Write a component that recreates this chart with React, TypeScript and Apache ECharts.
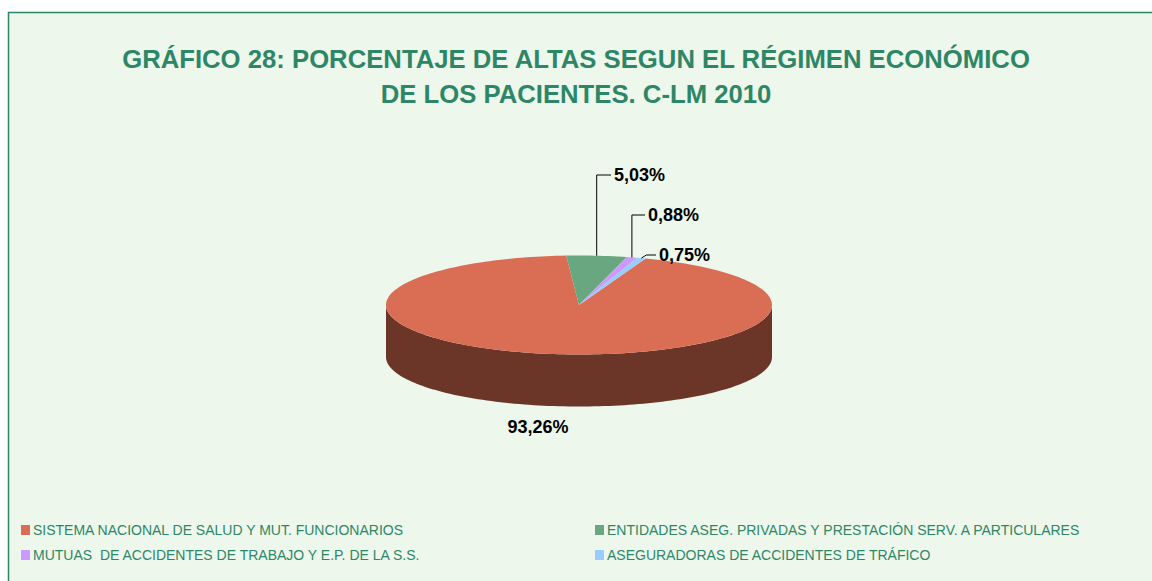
import React, { useEffect, useRef } from "react";
import * as echarts from "echarts";

const titleText = "GRÁFICO 28: PORCENTAJE DE ALTAS SEGUN EL RÉGIMEN ECONÓMICO\nDE LOS PACIENTES. C-LM 2010";
const categories = [
  "SISTEMA NACIONAL DE SALUD Y MUT. FUNCIONARIOS",
  "ENTIDADES ASEG. PRIVADAS Y PRESTACIÓN SERV. A PARTICULARES",
  "MUTUAS  DE ACCIDENTES DE TRABAJO Y E.P. DE LA S.S.",
  "ASEGURADORAS DE ACCIDENTES DE TRÁFICO",
];
const values = [93.26, 5.03, 0.88, 0.75];
const valueLabels = ["93,26%", "5,03%", "0,88%", "0,75%"];
const colors = ["#d96e55", "#68a77f", "#cc99ff", "#99ccff"];
const sideColors = ["#6b3528", "#3f6a4f", "#8a66b0", "#6688aa"];
// slices are laid clockwise from 12 o'clock in this order
const drawOrder = [1, 2, 3, 0];

const GREEN = "#2d8767";
const FONT = "'Liberation Sans', Arial, sans-serif";

// pie geometry (layout, not data)
const CX = 579;
const CY = 305;
const RX = 193;
const RY = 49.5;
const DEPTH = 52;
const START_DEG = -3.8;

// label layout per category (positions only)
const labelLayout = [
  { x: 538, y: 427, align: "center", line: null },
  { x: 614, y: 175, align: "left", line: { bendDx: 0, endX: 611 } },
  { x: 648, y: 215, align: "left", line: { bendDx: 0, endX: 645 } },
  { x: 659, y: 255, align: "left", line: { bendDx: 5, endX: 656 } },
];

const total = values.reduce((a, b) => a + b, 0);
const angleRanges: { a0: number; a1: number }[] = [];
{
  let acc = START_DEG;
  drawOrder.forEach((idx) => {
    const span = (values[idx] / total) * 360;
    angleRanges[idx] = { a0: acc, a1: acc + span };
    acc += span;
  });
}

const pt = (deg: number, dy = 0): number[] => {
  const r = (deg * Math.PI) / 180;
  return [CX + RX * Math.sin(r), CY - RY * Math.cos(r) + dy];
};

const arc = (a0: number, a1: number, dy = 0): number[][] => {
  const n = Math.max(2, Math.ceil(Math.abs(a1 - a0) / 1.5));
  const out: number[][] = [];
  for (let k = 0; k <= n; k++) out.push(pt(a0 + ((a1 - a0) * k) / n, dy));
  return out;
};

const makeRenderItem = (i: number) => (_params: any, _api: any) => {
  const { a0, a1 } = angleRanges[i];
  const children: any[] = [];
  // front outer wall
  const lo = Math.max(a0, 90);
  const hi = Math.min(a1, 270);
  if (lo < hi) {
    const top = arc(lo, hi, 0);
    const bottom = arc(hi, lo, DEPTH);
    children.push({
      type: "polygon",
      shape: { points: top.concat(bottom) },
      style: { fill: sideColors[i] },
      z2: 1,
    });
  }
  // top face
  children.push({
    type: "polygon",
    shape: { points: [[CX, CY]].concat(arc(a0, a1, 0)) },
    style: { fill: colors[i] },
    z2: 10,
  });
  // label
  const L = labelLayout[i];
  if (L.line) {
    const mid = (a0 + a1) / 2;
    const anchor = pt(mid, 0);
    children.push({
      type: "polyline",
      shape: {
        points: [anchor, [anchor[0] + L.line.bendDx, L.y], [L.line.endX, L.y]],
      },
      style: { stroke: "#000000", lineWidth: 1, fill: null },
      z2: 20,
    });
  }
  children.push({
    type: "text",
    style: {
      text: valueLabels[i],
      x: L.x,
      y: L.y,
      align: L.align,
      verticalAlign: "middle",
      font: `bold 18px ${FONT}`,
      fill: "#000000",
    },
    z2: 21,
  });
  return { type: "group", children };
};

export default function App() {
  const ref = useRef<HTMLDivElement>(null);
  useEffect(() => {
    if (!ref.current) return;
    const chart = echarts.init(ref.current, null, { renderer: "svg" });
    const legendText = {
      color: GREEN,
      fontSize: 14,
      fontFamily: FONT,
      lineHeight: 14,
      padding: [0, 0, 0, -2],
    };
    chart.setOption({
      animation: false,
      backgroundColor: "#ffffff",
      title: {
        text: titleText,
        left: "center",
        top: 36,
        padding: [5, 5, 5, 11],
        textStyle: {
          color: GREEN,
          fontSize: 25.7,
          fontWeight: "bold",
          fontFamily: FONT,
          lineHeight: 35,
        },
      },
      graphic: [
        {
          type: "rect",
          silent: true,
          z: -10,
          shape: { x: 8.5, y: 12.5, width: 1300, height: 700 },
          style: { fill: "#edf7ec", stroke: GREEN, lineWidth: 1.5 },
        },
      ],
      legend: [
        {
          orient: "vertical",
          left: 16,
          top: 518,
          icon: "rect",
          itemWidth: 9,
          itemHeight: 10,
          itemGap: 11,
          selectedMode: false,
          data: [categories[0], categories[2]],
          textStyle: legendText,
        },
        {
          orient: "vertical",
          left: 590,
          top: 518,
          icon: "rect",
          itemWidth: 9,
          itemHeight: 10,
          itemGap: 11,
          selectedMode: false,
          data: [categories[1], categories[3]],
          textStyle: legendText,
        },
      ],
      series: categories.map((name, i) => ({
        type: "custom",
        name,
        coordinateSystem: "none",
        itemStyle: { color: colors[i] },
        data: [[values[i]]],
        renderItem: makeRenderItem(i),
        silent: true,
      })),
    });
    return () => chart.dispose();
  }, []);
  return (
    <div
      ref={ref}
      style={{ position: "absolute", left: 0, top: 0, width: 1152, height: 581 }}
    />
  );
}
